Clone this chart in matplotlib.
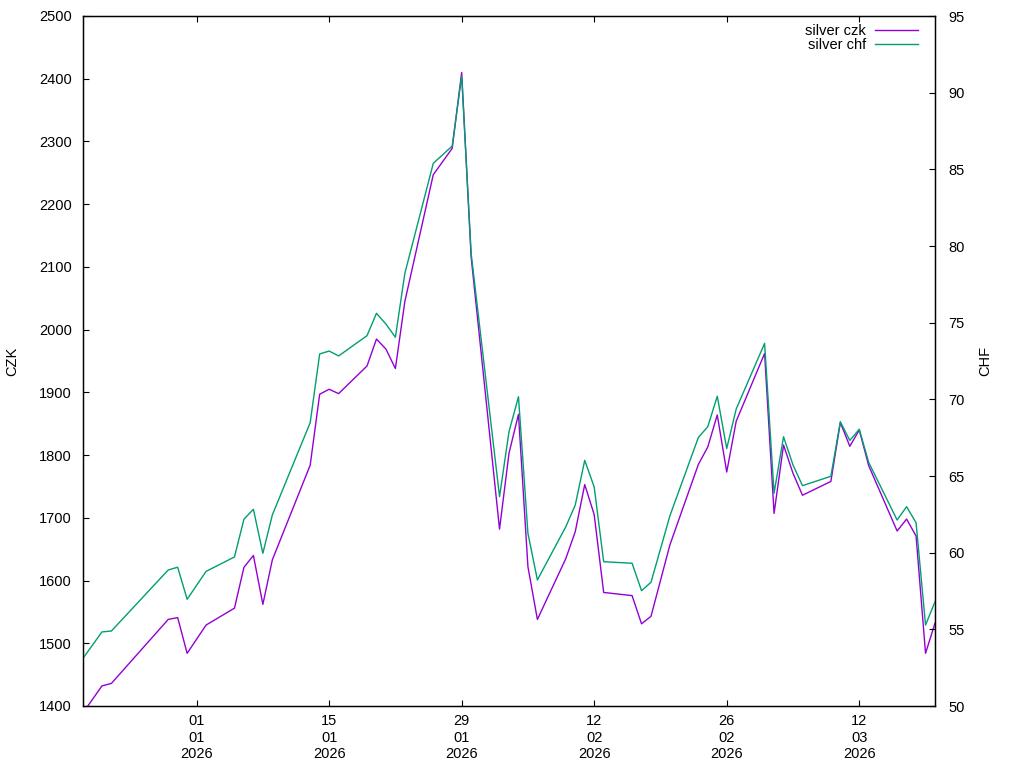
import matplotlib.pyplot as plt
import matplotlib.dates as mdates
import pandas as pd

plt.rcParams['font.family'] = ['Liberation Sans', 'DejaVu Sans']
plt.rcParams['font.size'] = 10.5

dates = ["2025-12-20", "2025-12-22", "2025-12-23", "2025-12-29", "2025-12-30", "2025-12-31",
         "2026-01-02", "2026-01-05", "2026-01-06", "2026-01-07", "2026-01-08", "2026-01-09",
         "2026-01-13", "2026-01-14", "2026-01-15", "2026-01-16", "2026-01-19", "2026-01-20",
         "2026-01-21", "2026-01-22", "2026-01-23", "2026-01-26", "2026-01-28", "2026-01-29",
         "2026-01-30", "2026-02-02", "2026-02-03", "2026-02-04", "2026-02-05", "2026-02-06",
         "2026-02-09", "2026-02-10", "2026-02-11", "2026-02-12", "2026-02-13", "2026-02-16",
         "2026-02-17", "2026-02-18", "2026-02-20", "2026-02-23", "2026-02-24", "2026-02-25",
         "2026-02-26", "2026-02-27", "2026-03-02", "2026-03-03", "2026-03-04", "2026-03-05",
         "2026-03-06", "2026-03-09", "2026-03-10", "2026-03-11", "2026-03-12", "2026-03-13",
         "2026-03-16", "2026-03-17", "2026-03-18", "2026-03-19", "2026-03-20"]

silver_czk = [1389, 1432, 1436, 1538, 1541, 1484,
              1529, 1556, 1621, 1640, 1562, 1633,
              1784, 1897, 1905, 1898, 1942, 1985,
              1969, 1938, 2045, 2247, 2289, 2410,
              2116, 1682, 1803, 1865, 1622, 1538,
              1635, 1678, 1753, 1705, 1581, 1576,
              1531, 1543, 1657, 1785, 1813, 1864,
              1773, 1854, 1962, 1707, 1816, 1771,
              1736, 1758, 1852, 1814, 1840, 1783,
              1679, 1698, 1671, 1484, 1532]

silver_chf = [53.11, 54.83, 54.89, 58.87, 59.05, 56.96,
              58.78, 59.72, 62.18, 62.83, 59.96, 62.46,
              68.48, 72.96, 73.15, 72.83, 74.15, 75.61,
              74.91, 74.05, 78.22, 85.39, 86.52, 91.09,
              79.52, 63.65, 67.89, 70.17, 61.26, 58.22,
              61.69, 63.11, 66.02, 64.28, 59.41, 59.31,
              57.52, 58.07, 62.41, 67.51, 68.22, 70.20,
              66.79, 69.37, 73.65, 63.87, 67.56, 65.72,
              64.37, 64.98, 68.54, 67.32, 68.05, 65.88,
              62.13, 63.00, 61.95, 55.28, 56.80]

tick_dates = ["2026-01-01", "2026-01-15", "2026-01-29", "2026-02-12", "2026-02-26", "2026-03-12"]

x = pd.to_datetime(dates)

fig = plt.figure(figsize=(10.24, 7.68), dpi=100)
ax = fig.add_axes([83 / 1024, 62 / 768, 852 / 1024, 690 / 768])
ax2 = ax.twinx()

l1, = ax.plot(x, silver_czk, color='#9400D3', lw=1, label='silver czk')
l2, = ax2.plot(x, silver_chf, color='#009E73', lw=1, label='silver chf')

ax.set_xlim(x[0], x[-1])
ax.set_ylim(1400, 2500)
ax.set_yticks(range(1400, 2501, 100))
ax2.set_ylim(50, 95)
ax2.set_yticks(range(50, 96, 5))

ax.set_xticks(pd.to_datetime(tick_dates))
ax.xaxis.set_major_formatter(mdates.DateFormatter('%d\n%m\n%Y'))

ax.tick_params(axis='x', direction='in', length=4.5, top=True, pad=6)
ax.tick_params(axis='y', direction='in', length=4.5, right=False, pad=8)
ax2.tick_params(axis='y', direction='in', length=4.5, pad=9.5)

for s in ax.spines.values():
    s.set_linewidth(1)

ax.set_ylabel('CZK', labelpad=14)
ax2.set_ylabel('CHF', labelpad=10)

leg = ax2.legend(handles=[l1, l2], loc='upper right', frameon=False, markerfirst=False,
                 handlelength=2.95, handletextpad=0.62, labelspacing=0.0,
                 borderaxespad=0, bbox_to_anchor=(0.9869, 0.997))

plt.savefig('out.png', dpi=100)
